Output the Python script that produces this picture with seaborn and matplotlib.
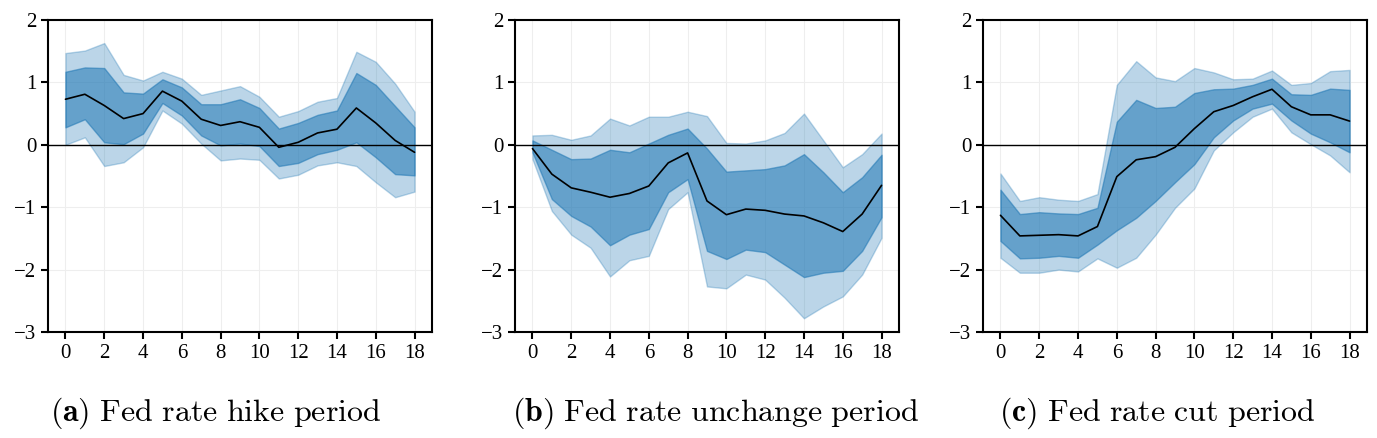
import matplotlib
matplotlib.use("Agg")
import matplotlib.pyplot as plt
import seaborn as sns
import numpy as np

# horizons
steps = list(range(19))

# (a) hike period
hike_mean = [0.73, 0.81, 0.63, 0.42, 0.50, 0.86, 0.70, 0.41, 0.31, 0.37, 0.28, -0.04, 0.04, 0.19, 0.25, 0.59, 0.35, 0.07, -0.12]
hike_in_hi = [1.17, 1.24, 1.23, 0.84, 0.82, 1.05, 0.92, 0.65, 0.65, 0.73, 0.59, 0.26, 0.35, 0.48, 0.55, 1.15, 0.96, 0.62, 0.28]
hike_in_lo = [0.28, 0.41, 0.04, 0.01, 0.18, 0.67, 0.47, 0.15, -0.01, 0.02, -0.02, -0.34, -0.29, -0.15, -0.08, 0.04, -0.20, -0.47, -0.49]
hike_out_hi = [1.47, 1.51, 1.63, 1.12, 1.03, 1.17, 1.06, 0.80, 0.87, 0.94, 0.77, 0.45, 0.54, 0.69, 0.75, 1.49, 1.33, 0.98, 0.53]
hike_out_lo = [0.00, 0.12, -0.34, -0.28, -0.04, 0.55, 0.34, 0.02, -0.25, -0.22, -0.24, -0.54, -0.48, -0.33, -0.28, -0.34, -0.60, -0.84, -0.75]

# (b) unchanged period
hold_mean = [-0.06, -0.47, -0.69, -0.76, -0.84, -0.78, -0.66, -0.29, -0.13, -0.90, -1.12, -1.03, -1.05, -1.11, -1.14, -1.25, -1.39, -1.11, -0.65]
hold_in_hi = [0.07, -0.08, -0.23, -0.22, -0.08, -0.12, 0.02, 0.16, 0.26, -0.06, -0.43, -0.41, -0.39, -0.33, -0.15, -0.44, -0.76, -0.52, -0.16]
hold_in_lo = [-0.12, -0.87, -1.14, -1.31, -1.61, -1.44, -1.35, -0.76, -0.55, -1.70, -1.83, -1.68, -1.72, -1.92, -2.12, -2.05, -2.02, -1.70, -1.16]
hold_out_hi = [0.15, 0.16, 0.08, 0.15, 0.42, 0.31, 0.45, 0.45, 0.53, 0.46, 0.03, 0.02, 0.07, 0.19, 0.50, 0.07, -0.36, -0.15, 0.18]
hold_out_lo = [-0.23, -1.06, -1.44, -1.65, -2.11, -1.85, -1.78, -1.03, -0.76, -2.27, -2.30, -2.08, -2.16, -2.45, -2.78, -2.59, -2.43, -2.08, -1.49]

# (c) cut period
cut_mean = [-1.13, -1.46, -1.45, -1.44, -1.46, -1.31, -0.51, -0.24, -0.19, -0.04, 0.26, 0.53, 0.63, 0.77, 0.89, 0.61, 0.48, 0.48, 0.38]
cut_in_hi = [-0.72, -1.11, -1.08, -1.10, -1.11, -1.01, 0.37, 0.72, 0.59, 0.61, 0.83, 0.89, 0.90, 0.96, 1.06, 0.81, 0.80, 0.90, 0.88]
cut_in_lo = [-1.54, -1.82, -1.81, -1.78, -1.81, -1.60, -1.37, -1.17, -0.90, -0.60, -0.31, 0.12, 0.39, 0.58, 0.66, 0.39, 0.18, 0.04, -0.12]
cut_out_hi = [-0.46, -0.90, -0.84, -0.88, -0.90, -0.79, 0.96, 1.34, 1.08, 1.02, 1.23, 1.16, 1.05, 1.06, 1.19, 0.96, 0.99, 1.18, 1.20]
cut_out_lo = [-1.81, -2.05, -2.05, -2.00, -2.03, -1.82, -1.97, -1.81, -1.44, -1.01, -0.70, -0.09, 0.20, 0.45, 0.58, 0.20, 0.01, -0.17, -0.44]

tags = ["(a)", "(b)", "(c)"]
titles = ["Fed rate hike period", "Fed rate unchange period", "Fed rate cut period"]

sns.set_theme(style="ticks")
plt.rcParams["font.family"] = ["Liberation Serif", "DejaVu Serif"]
plt.rcParams["mathtext.fontset"] = "cm"
plt.rcParams["text.color"] = "black"

fig = plt.figure(figsize=(13.77, 4.38), dpi=100)
lefts = [48 / 1377, 515 / 1377, 983 / 1377]
cap_x = [216 / 1377, 716 / 1377, 1157 / 1377]
panels = [
    (hike_mean, hike_in_lo, hike_in_hi, hike_out_lo, hike_out_hi),
    (hold_mean, hold_in_lo, hold_in_hi, hold_out_lo, hold_out_hi),
    (cut_mean, cut_in_lo, cut_in_hi, cut_out_lo, cut_out_hi),
]
blue = "#1f77b4"

for left, cx, data, tag, title in zip(lefts, cap_x, panels, tags, titles):
    mean, in_lo, in_hi, out_lo, out_hi = data
    ax = fig.add_axes([left, 106 / 438, 384 / 1377, 312 / 438])
    ax.fill_between(steps, out_lo, out_hi, color=blue, alpha=0.3, linewidth=1)
    ax.fill_between(steps, in_lo, in_hi, color=blue, alpha=0.55, linewidth=1)
    sns.lineplot(x=steps, y=mean, ax=ax, color="black", linewidth=1.2)
    ax.axhline(0, color="black", linewidth=1)
    ax.set_ylim(-3, 2)
    ax.set_xticks(np.arange(0, 19, 2))
    ax.set_yticks([-3, -2, -1, 0, 1, 2])
    ax.grid(True, color="#eeeeee", linewidth=0.8)
    for sp in ax.spines.values():
        sp.set_color("black")
        sp.set_linewidth(1.5)
    ax.tick_params(direction="out", length=5, width=1.5, labelsize=15, colors="black")
    # bold tag + roman title, Computer Modern look
    word = title.replace(" ", r"\ ")
    cap = r"$\mathbf{" + tag + r"}\ \mathrm{" + word + "}$"
    fig.text(cx, 25 / 438, cap, ha="center", va="center", fontsize=23, color="black")

fig.savefig("out.png", dpi=100)
plt.close(fig)
